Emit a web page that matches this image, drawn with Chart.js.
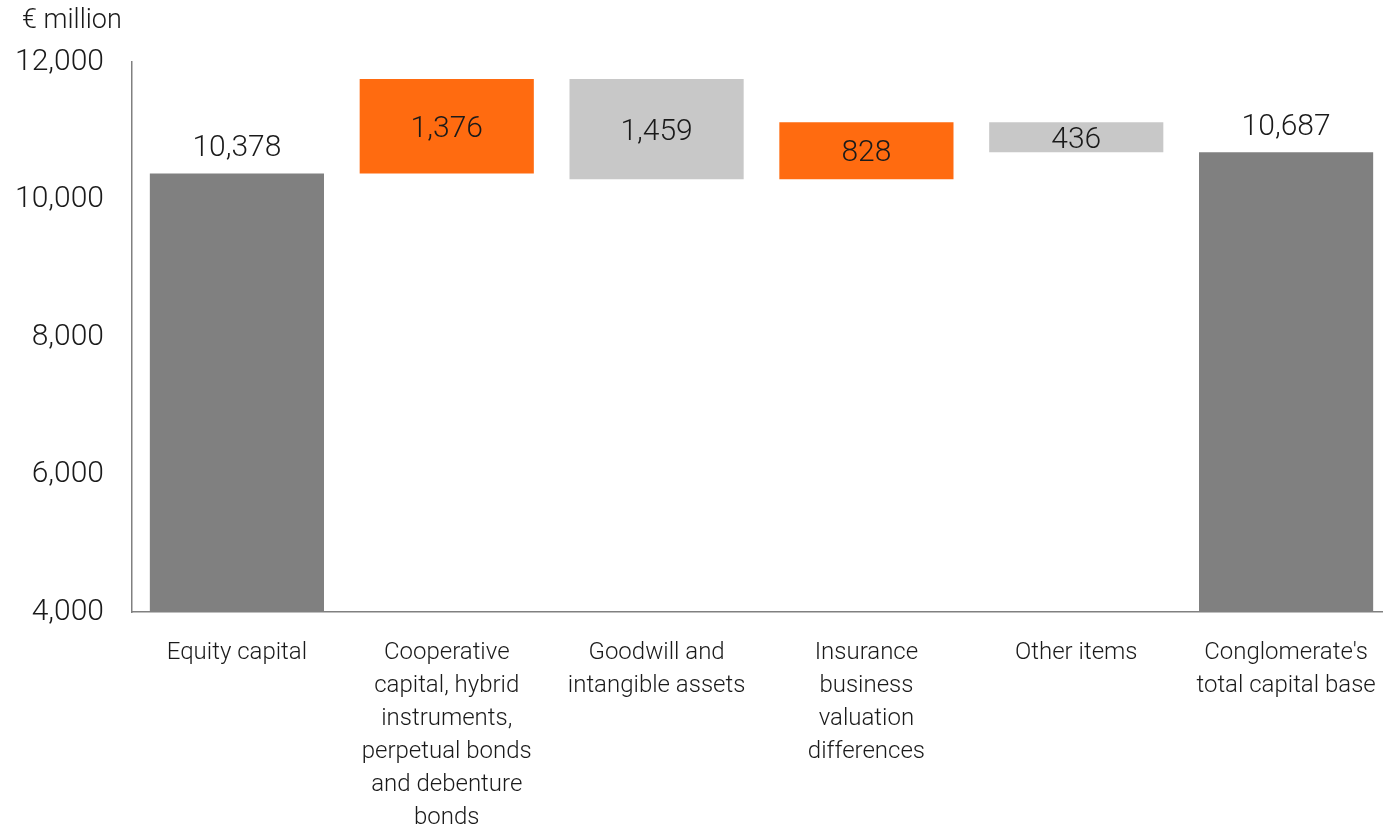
<!DOCTYPE html>
<html>
<head>
<meta charset="utf-8">
<script src="https://cdn.jsdelivr.net/npm/chart.js@4"></script>
<style>
  html, body { margin: 0; padding: 0; background: #fff; overflow: hidden; width: 1383px; height: 829px; }
  #wrap { width: 1391px; height: 829px; position: relative; }
</style>
</head>
<body>
<div id="wrap"><canvas id="chart"></canvas></div>
<script>
const categories = [
    ['Equity capital'],
    ['Cooperative', 'capital, hybrid', 'instruments,', 'perpetual bonds', 'and debenture', 'bonds'],
    ['Goodwill and', 'intangible assets'],
    ['Insurance', 'business', 'valuation', 'differences'],
    ['Other items'],
    ["Conglomerate's", 'total capital base']
];
const changes = [10378, 1376, -1459, 828, -436, 10687];
const isTotal = [true, false, false, false, false, true];
const valueLabels = ['10,378', '1,376', '1,459', '828', '436', '10,687'];
const yTicks = [4000, 6000, 8000, 10000, 12000];

const colTotal = '#808080';
const colUp = '#FF6B10';
const colDown = '#C8C8C8';
const fontFamily = 'Roboto, "DejaVu Sans", sans-serif';

// build floating ranges for the waterfall
let running = 0;
const ranges = changes.map((v, i) => {
    if (isTotal[i]) {
        running = v;
        return [0, v];
    }
    const start = running;
    running += v;
    return [start, running];
});
const colors = changes.map((v, i) => isTotal[i] ? colTotal : (v >= 0 ? colUp : colDown));

// value labels + unit title
const labelPlugin = {
    id: 'labels',
    afterDatasetsDraw(chart) {
        const ctx = chart.ctx;
        const meta = chart.getDatasetMeta(0);
        const y = chart.scales.y;
        ctx.save();
        ctx.fillStyle = '#1a1a1a';
        ctx.font = '300 30px ' + fontFamily;
        ctx.textAlign = 'center';
        ctx.textBaseline = 'middle';
        meta.data.forEach((bar, i) => {
            const r = ranges[i];
            const top = y.getPixelForValue(Math.max(r[0], r[1]));
            const bottom = y.getPixelForValue(Math.min(r[0], r[1]));
            const ty = isTotal[i] ? top - 25 : (top + bottom) / 2 + 3;
            ctx.fillText(valueLabels[i], bar.x, ty);
        });
        ctx.font = '300 27px ' + fontFamily;
        ctx.textAlign = 'left';
        ctx.fillText('€ million', 22, 21);
        ctx.restore();
    }
};

new Chart(document.getElementById('chart').getContext('2d'), {
    type: 'bar',
    data: {
        labels: categories,
        datasets: [{
            data: ranges,
            backgroundColor: colors,
            borderWidth: 0,
            barPercentage: 0.83,
            categoryPercentage: 1
        }]
    },
    options: {
        responsive: true,
        maintainAspectRatio: false,
        animation: false,
        layout: { padding: { top: 62, left: 0, right: 0, bottom: 0 } },
        plugins: {
            legend: { display: false },
            tooltip: { enabled: false }
        },
        scales: {
            y: {
                min: 4000,
                max: 12000,
                afterFit: s => { s.width = 132; },
                afterBuildTicks: s => { s.ticks = yTicks.map(v => ({ value: v })); },
                grid: { display: false, drawTicks: false },
                border: { display: true, color: '#808080', width: 1.5 },
                ticks: {
                    padding: 28,
                    color: '#1a1a1a',
                    font: { size: 30, weight: 300, family: fontFamily },
                    callback: v => v.toLocaleString('en-US')
                }
            },
            x: {
                afterFit: s => { s.height = 217; s.paddingLeft = 0; s.paddingRight = 0; },
                grid: { display: false, drawTicks: false },
                border: { display: true, color: '#808080', width: 1.5 },
                ticks: {
                    padding: 24,
                    color: '#1a1a1a',
                    maxRotation: 0,
                    autoSkip: false,
                    font: { size: 24, weight: 300, family: fontFamily, lineHeight: 1.375 }
                }
            }
        }
    },
    plugins: [labelPlugin]
});
</script>
</body>
</html>
